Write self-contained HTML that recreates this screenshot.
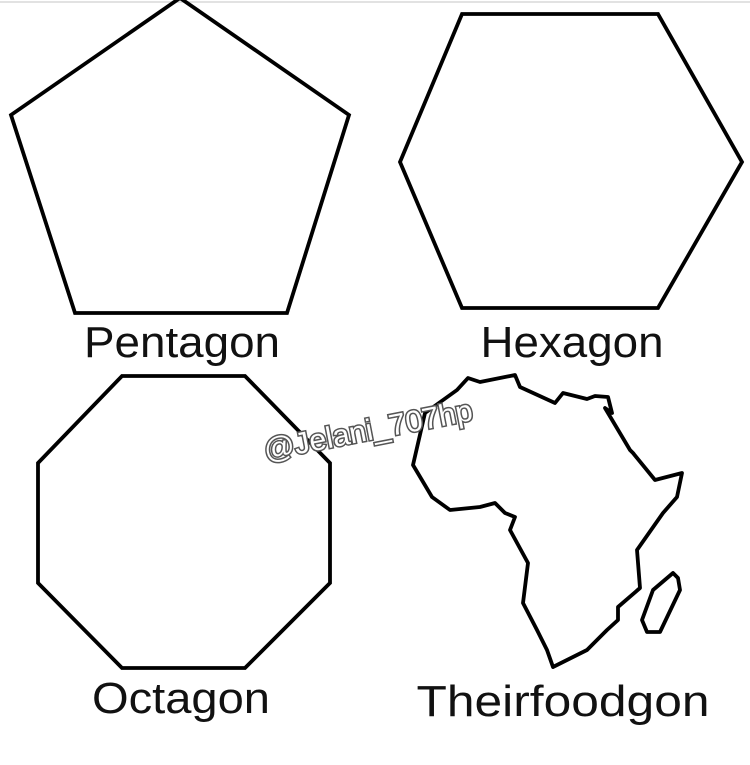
<!DOCTYPE html>
<html><head><meta charset="utf-8"><style>
html,body{margin:0;padding:0;background:#fff;}
svg{display:block;}
text{font-family:"Liberation Sans",sans-serif;}
</style></head><body>
<svg width="750" height="765" viewBox="0 0 750 765">
<rect x="0" y="0" width="750" height="765" fill="#fff"/>
<line x1="0" y1="2" x2="750" y2="2" stroke="#d8d8d8" stroke-width="1.5"/>
<g fill="none" stroke="#000" stroke-width="3.8" stroke-linejoin="miter">
<polygon points="180,-2 349,115 287,313 75,313 11,115"/>
<polygon points="462,14 658,14 742,162 658,308 462,308 400,162"/>
<polygon points="122,376 245,376 330,463 330,583 245,668 122,668 38,583 38,463"/>
<polygon stroke-linejoin="round" points="468,378 480,382 515,375 520,387 555,403 563,393 587,399 595,396 608,397 612,413 605,408 630,450 633,453 655,480 682,473 677,497 663,513 637,550 640,588 618,607 618,620 607,630 587,650 553,667 547,650 537,630 523,603 528,563 510,530 515,517 505,513 495,503 480,507 450,510 432,497 413,465 425,413 457,390"/>
<polygon stroke-linejoin="round" points="653,590 673,573 678,578 680,590 660,632 647,632 642,620"/>
</g>
<g font-size="44" fill="#111" text-anchor="middle">
<text x="182" y="357" textLength="196" lengthAdjust="spacingAndGlyphs">Pentagon</text>
<text x="572" y="357" textLength="183" lengthAdjust="spacingAndGlyphs">Hexagon</text>
<text x="181" y="713" textLength="178" lengthAdjust="spacingAndGlyphs">Octagon</text>
<text x="563" y="716" textLength="293" lengthAdjust="spacingAndGlyphs">Theirfoodgon</text>
</g>
<text x="370" y="440" font-size="30" text-anchor="middle" fill="#fff" stroke="#555" stroke-width="3" paint-order="stroke" textLength="212" lengthAdjust="spacingAndGlyphs" transform="rotate(-11 370 440)">@Jelani_707hp</text>
</svg>
</body></html>
